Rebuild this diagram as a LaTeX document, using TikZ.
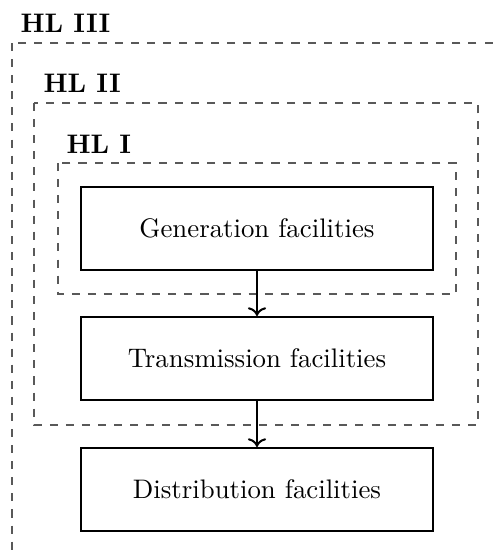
\documentclass[tikz,border=0pt]{standalone}
\usetikzlibrary{arrows.meta}
\begin{document}
\begin{tikzpicture}[x=0.373pt,y=-0.373pt,
  facility/.style={draw,line width=0.75pt,minimum width=352*0.373pt,minimum height=83*0.373pt,inner sep=0pt},
  level/.style={draw,dashed,black!65},
  levellabel/.style={anchor=base west,inner sep=0pt,font=\bfseries},
  flow/.style={->,line width=0.75pt}]
  \clip (0,0) rectangle (493,552);

  % hierarchical level frames
  \draw[level] (12,43) rectangle (560,620);
  \draw[level] (34,103) rectangle (478,425);
  \draw[level] (58,163) rectangle (456,294);

  \node[levellabel] (hl3) at (20,32.5) {HL III};
  \node[levellabel] (hl2) at (43,92) {HL II};
  \node[levellabel] (hl1) at (66,153) {HL I};

  % facilities
  \node[facility] (gen) at (257,228.5) {Generation facilities};
  \node[facility] (trans) at (257,358.5) {Transmission facilities};
  \node[facility] (dist) at (257,489.5) {Distribution facilities};

  \draw[flow] (gen) -- (trans);
  \draw[flow] (trans) -- (dist);
\end{tikzpicture}
\end{document}
